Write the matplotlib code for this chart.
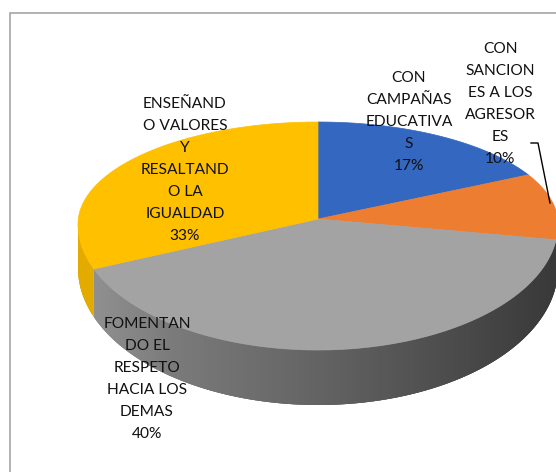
import numpy as np
import matplotlib
matplotlib.use("Agg")
import matplotlib.pyplot as plt
from matplotlib.patches import Polygon, Rectangle
from matplotlib.collections import PolyCollection

categories = ["CON\nCAMPAÑAS\nEDUCATIVA\nS", "CON\nSANCION\nES A LOS\nAGRESOR\nES",
              "FOMENTAN\nDO EL\nRESPETO\nHACIA LOS\nDEMAS", "ENSEÑAND\nO VALORES\nY\nRESALTAND\nO LA\nIGUALDAD"]
values = [17, 10, 40, 33]
colors = ["#3467BF", "#ED7D31", "#A3A3A3", "#FFC000"]
dark_side = ["#28508f", "#b55f25", "#5f5f5f", "#E3AA00"]
label_xy = [(409, 122), (500, 104), (147, 379), (185, 170)]

plt.rcParams["font.family"] = ["Lato", "DejaVu Sans"]
W, H = 556, 472
fig = plt.figure(figsize=(W / 100, H / 100), dpi=100)
ax = fig.add_axes([0, 0, 1, 1])
ax.set_xlim(0, W)
ax.set_ylim(H, 0)
ax.axis("off")

ax.add_patch(Rectangle((10, 13), 560, 480, fc="white", ec="#A6A6A6", lw=1.2, zorder=0))

CX, CY, RX, RT, RB = 318, 224, 240, 102, 126
APEX = (318, 219)

def warp(theta):
    # perspective foreshortening of the left half
    return theta + np.where(np.sin(theta) < 0, -np.sin(theta), 0) * np.radians(9)

def rim(theta):
    th = warp(theta)
    x = CX + RX * np.sin(th)
    c = np.cos(th)
    y = CY - np.where(c > 0, RT, RB) * c
    return x, y

def depth(theta):
    th = warp(theta)
    return 44 + 11 * np.abs(np.cos(th))

fr = np.asarray(values, float) / sum(values)
edges = np.concatenate([[0], np.cumsum(fr)]) * 2 * np.pi

for i in range(len(values)):
    t = np.linspace(edges[i], edges[i + 1], 240)
    x, y = rim(t)
    d = depth(t)
    quads, cols = [], []
    for j in range(len(t) - 1):
        mid = warp((t[j] + t[j + 1]) / 2)
        if np.cos(mid) > 0.03:
            continue
        k = min(j + 3, len(t) - 1)
        quads.append([(x[j], y[j]), (x[k], y[k]), (x[k], y[k] + d[k]), (x[j], y[j] + d[j])])
        s = np.sin(mid)
        if i == 2:
            g = np.interp(s, [-1, -0.6, 0, 0.6, 1], [0.58, 0.48, 0.39, 0.29, 0.22])
            cols.append((g, g, g))
        else:
            cols.append(matplotlib.colors.to_rgb(dark_side[i]))
    if quads:
        ax.add_collection(PolyCollection(quads, facecolors=cols, edgecolors="none", zorder=2))

for i in range(len(values)):
    t = np.linspace(edges[i], edges[i + 1], 200)
    x, y = rim(t)
    pts = np.column_stack([np.r_[APEX[0], x], np.r_[APEX[1], y]])
    ax.add_patch(Polygon(pts, closed=True, fc=colors[i], ec=colors[i], lw=0.5, zorder=3))

ax.plot([531, 538, 550], [143, 143, 203], color="black", lw=1, zorder=4)

for cat, v, (lx, ly) in zip(categories, values, label_xy):
    ax.text(lx, ly, f"{cat}\n{v}%", ha="center", va="center", fontsize=11.2,
            color="#111111", linespacing=1.74, zorder=5)

fig.savefig("out.png", dpi=100)
